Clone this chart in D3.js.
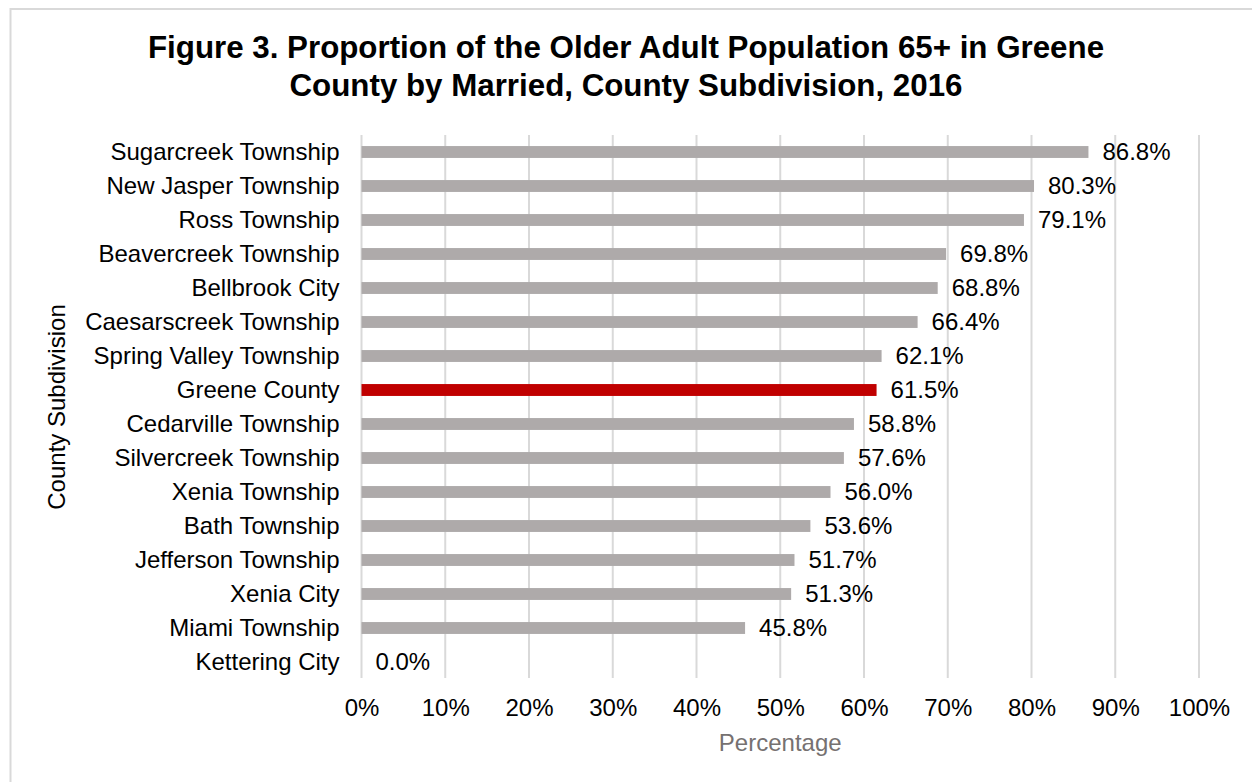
<!DOCTYPE html>
<html>
<head>
<meta charset="utf-8">
<script src="https://cdn.jsdelivr.net/npm/d3@7"></script>
<style>
  html, body { margin: 0; padding: 0; background: #fff; }
  svg { display: block; font-family: "Liberation Sans", Arial, sans-serif; }
</style>
</head>
<body>
<svg id="chart" width="1252" height="782"></svg>
<script>
const categories = [
  "Sugarcreek Township", "New Jasper Township", "Ross Township", "Beavercreek Township",
  "Bellbrook City", "Caesarscreek Township", "Spring Valley Township", "Greene County",
  "Cedarville Township", "Silvercreek Township", "Xenia Township", "Bath Township",
  "Jefferson Township", "Xenia City", "Miami Township", "Kettering City"
];
const values = [86.8, 80.3, 79.1, 69.8, 68.8, 66.4, 62.1, 61.5, 58.8, 57.6, 56.0, 53.6, 51.7, 51.3, 45.8, 0.0];
const highlight = ["Greene County"];
const xTicks = [0, 10, 20, 30, 40, 50, 60, 70, 80, 90, 100];
const titleLines = [
  "Figure 3. Proportion of the Older Adult Population 65+ in Greene",
  "County by Married, County Subdivision, 2016"
];
const xTitle = "Percentage";
const yTitle = "County Subdivision";

const svg = d3.select("#chart");
const W = 1252, H = 782;
const plot = { left: 361.5, right: 1199, top: 135, bottom: 679 };

// outer frame
svg.append("rect")
  .attr("x", 10.5).attr("y", 9)
  .attr("width", W + 20).attr("height", H + 20)
  .attr("fill", "#fff").attr("stroke", "#D9D9D9").attr("stroke-width", 2);

const x = d3.scaleLinear().domain([0, 100]).range([plot.left, plot.right]);
const y = d3.scaleBand().domain(categories).range([plot.top, plot.bottom])
  .paddingInner(0.65).paddingOuter(0.325);

// title
svg.append("g").selectAll("text").data(titleLines).join("text")
  .attr("x", 626).attr("y", (d, i) => 58 + i * 38)
  .attr("text-anchor", "middle")
  .attr("font-size", 31.3).attr("font-weight", "bold").attr("fill", "#000")
  .text(d => d);

// gridlines
svg.append("g").selectAll("line").data(xTicks).join("line")
  .attr("x1", d => x(d)).attr("x2", d => x(d))
  .attr("y1", plot.top).attr("y2", plot.bottom - 1)
  .attr("stroke", "#D9D9D9").attr("stroke-width", 2);

// x axis labels
const xAxis = d3.axisBottom(x).tickValues(xTicks).tickFormat(d => d + "%").tickSize(0).tickPadding(0);
const gx = svg.append("g").attr("transform", `translate(0, ${plot.bottom})`).call(xAxis);
gx.select(".domain").remove();
gx.selectAll("text").attr("font-size", 24).attr("font-family", "Liberation Sans, Arial, sans-serif")
  .attr("fill", "#000").attr("dy", null).attr("y", 37);

// y axis labels
const yAxis = d3.axisLeft(y).tickSize(0).tickPadding(22);
const gy = svg.append("g").attr("transform", `translate(${plot.left}, 0)`).call(yAxis);
gy.select(".domain").remove();
gy.selectAll("text").attr("font-size", 24).attr("font-family", "Liberation Sans, Arial, sans-serif")
  .attr("fill", "#000");

// bars
const data = categories.map((c, i) => ({ c, v: values[i] }));
svg.append("g").selectAll("rect").data(data).join("rect")
  .attr("x", x(0))
  .attr("y", d => y(d.c))
  .attr("width", d => x(d.v) - x(0))
  .attr("height", y.bandwidth())
  .attr("fill", d => highlight.includes(d.c) ? "#C00000" : "#AEAAAA");

// value labels
svg.append("g").selectAll("text").data(data).join("text")
  .attr("x", d => x(d.v) + 14)
  .attr("y", d => y(d.c) + y.bandwidth() / 2)
  .attr("dy", "0.35em")
  .attr("font-size", 24).attr("fill", "#000")
  .text(d => d.v.toFixed(1) + "%");

// axis titles
svg.append("text")
  .attr("x", (plot.left + plot.right) / 2).attr("y", 751)
  .attr("text-anchor", "middle").attr("font-size", 24).attr("fill", "#767171")
  .text(xTitle);

svg.append("text")
  .attr("transform", `translate(65, ${(plot.top + plot.bottom) / 2}) rotate(-90)`)
  .attr("text-anchor", "middle").attr("font-size", 24).attr("fill", "#000")
  .text(yTitle);
</script>
</body>
</html>
